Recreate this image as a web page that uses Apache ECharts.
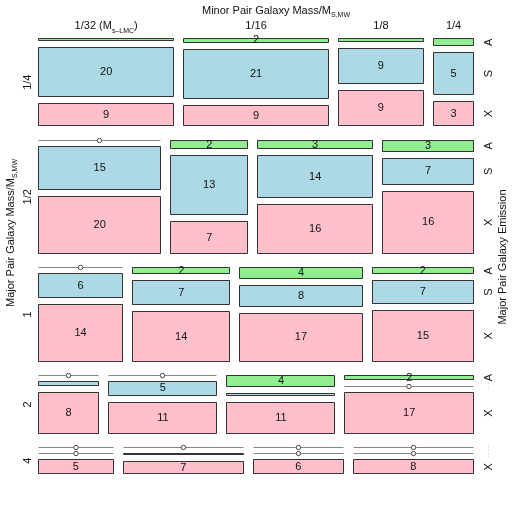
<!DOCTYPE html>
<html>
<head>
<meta charset="utf-8">
<script src="https://cdn.jsdelivr.net/npm/echarts@6/dist/echarts.min.js"></script>
<style>
  html, body { margin: 0; padding: 0; background: #fff; }
  #chart { width: 512px; height: 512px; }
</style>
</head>
<body>
<div id="chart"></div>
<script>
// rows = major pair mass, columns = minor pair mass, tiles = emission
const majorMass = ['1/4', '1/2', '1', '2', '4']
const minorMass = ['1/32 (M{s|s\u2013LMC})', '1/16', '1/8', '1/4']
const emission = ['A', 'S', 'X']
const emissionA = [
  [1, 2, 1, 1],
  [0, 2, 3, 3],
  [0, 2, 4, 2],
  [0, 0, 4, 2],
  [0, 0, 0, 0]
]
const emissionS = [
  [20, 21, 9, 5],
  [15, 13, 14, 7],
  [6, 7, 8, 7],
  [1, 5, 1, 0],
  [0, 1, 0, 0]
]
const emissionX = [
  [9, 9, 9, 3],
  [20, 7, 16, 16],
  [14, 14, 17, 15],
  [8, 11, 11, 17],
  [5, 7, 6, 8]
]
const emissionColors = ['#90ee90', '#add8e6', '#ffc0cb']

const FONT = '"Liberation Sans", Arial, Helvetica, sans-serif'
const PLOT = 436 // grid size in px, gaps below are given in px
const rowGap = 13.5 / PLOT
const colGap = 9 / PLOT
const cellGap = 6 / PLOT

// mosaic layout in axis units (0..1 each way)
const tiles = []
const axisLabels = []
const byEmission = [emissionA, emissionS, emissionX]
const rowTotals = majorMass.map((m, r) => minorMass.reduce((s, n, c) =>
  s + emissionA[r][c] + emissionS[r][c] + emissionX[r][c], 0))
const grand = rowTotals.reduce((a, b) => a + b, 0)
const availH = 1 - rowGap * (majorMass.length - 1)
let y = 0
majorMass.forEach((m, r) => {
  const rh = availH * rowTotals[r] / grand
  const availW = 1 - colGap * (minorMass.length - 1)
  let x = 0
  axisLabels.push([-10 / PLOT, y + rh / 2, m, 'left', 0])
  minorMass.forEach((n, c) => {
    const vals = byEmission.map(t => t[r][c])
    const tot = vals[0] + vals[1] + vals[2]
    const cw = availW * tot / rowTotals[r]
    const inner = rh - cellGap * (emission.length - 1)
    let yy = y
    if (r === 0) axisLabels.push([x + cw / 2, -12 / PLOT, n, 'top', 0])
    vals.forEach((v, e) => {
      const eh = inner * v / tot
      tiles.push([x, x + cw, yy, yy + eh, v, e])
      if (c === minorMass.length - 1) {
        axisLabels.push([1 + 15 / PLOT, yy + eh / 2, emission[e], 'right', v])
      }
      yy += eh + cellGap
    })
    x += cw + colGap
  })
  y += rh + rowGap
})

const myChart = echarts.init(document.getElementById('chart'))
const option = {
  animation: false,
  backgroundColor: '#fff',
  grid: { left: 38, top: 38, width: PLOT, height: PLOT },
  xAxis: { type: 'value', min: 0, max: 1, show: false },
  yAxis: { type: 'value', min: 0, max: 1, inverse: true, show: false },
  graphic: [
    {
      type: 'text', x: 276, y: 12,
      style: {
        text: '{n|Minor Pair Galaxy Mass/M}{s|S,MW}',
        align: 'center', verticalAlign: 'middle',
        rich: {
          n: { fontSize: 11, fontFamily: FONT, fill: '#111', lineHeight: 14, verticalAlign: 'top' },
          s: { fontSize: 7, fontFamily: FONT, fill: '#111', lineHeight: 8, padding: [7, 0, 0, 0], verticalAlign: 'top' }
        }
      }
    },
    {
      type: 'text', x: 12, y: 233, rotation: Math.PI / 2,
      style: {
        text: '{n|Major Pair Galaxy Mass/M}{s|S,MW}',
        align: 'center', verticalAlign: 'middle',
        rich: {
          n: { fontSize: 11, fontFamily: FONT, fill: '#111', lineHeight: 14, verticalAlign: 'top' },
          s: { fontSize: 7, fontFamily: FONT, fill: '#111', lineHeight: 8, padding: [7, 0, 0, 0], verticalAlign: 'top' }
        }
      }
    },
    {
      type: 'text', x: 503, y: 257, rotation: Math.PI / 2,
      style: {
        text: 'Major Pair Galaxy Emission',
        align: 'center', verticalAlign: 'middle',
        fontSize: 11, fontFamily: FONT, fill: '#111'
      }
    }
  ],
  series: [
    {
      type: 'custom',
      clip: false,
      data: tiles,
      renderItem(params, api) {
        const p0 = api.coord([api.value(0), api.value(2)])
        const p1 = api.coord([api.value(1), api.value(3)])
        const v = api.value(4)
        const e = api.value(5)
        const x0 = Math.round(p0[0]) + 0.5
        const x1 = Math.round(p1[0]) - 0.5
        const y0 = Math.round(p0[1]) + 0.5
        if (v === 0) {
          return {
            type: 'group',
            children: [
              { type: 'line', shape: { x1: x0, y1: y0, x2: x1, y2: y0 }, style: { stroke: '#888', lineWidth: 1 } },
              { type: 'circle', shape: { cx: (x0 + x1) / 2, cy: y0, r: 2.2 }, style: { fill: '#fff', stroke: '#444', lineWidth: 1 } }
            ]
          }
        }
        const y1 = Math.max(Math.round(p1[1]) - 0.5, y0 + 1)
        const children = [
          {
            type: 'rect',
            shape: { x: x0, y: y0, width: x1 - x0, height: y1 - y0 },
            style: { fill: emissionColors[e], stroke: '#333', lineWidth: 1 }
          }
        ]
        if (v > 1) {
          children.push({
            type: 'text',
            style: {
              text: String(v), x: (p0[0] + p1[0]) / 2, y: (p0[1] + p1[1]) / 2,
              align: 'center', verticalAlign: 'middle',
              fontSize: 11, fontFamily: FONT, fill: '#111'
            }
          })
        }
        return { type: 'group', children }
      }
    },
    {
      type: 'custom',
      clip: false,
      silent: true,
      data: axisLabels,
      renderItem(params, api) {
        const d = axisLabels[params.dataIndex]
        const p = api.coord([d[0], d[1]])
        const side = d[3]
        const empty = side === 'right' && d[4] === 0
        return {
          type: 'text',
          x: p[0], y: p[1],
          rotation: side === 'top' ? 0 : Math.PI / 2,
          style: {
            text: empty ? '\u00b7\u00b7\u00b7' : d[2],
            x: 0, y: 0,
            align: 'center', verticalAlign: 'middle',
            fontSize: empty ? 8 : 11, fontFamily: FONT,
            fill: empty ? '#bbb' : '#111',
            rich: {
              s: { fontSize: 7, fontFamily: FONT, fill: '#111', padding: [7, 0, 0, 0], verticalAlign: 'top', lineHeight: 8 }
            }
          }
        }
      }
    }
  ]
}
myChart.setOption(option)
</script>
</body>
</html>
